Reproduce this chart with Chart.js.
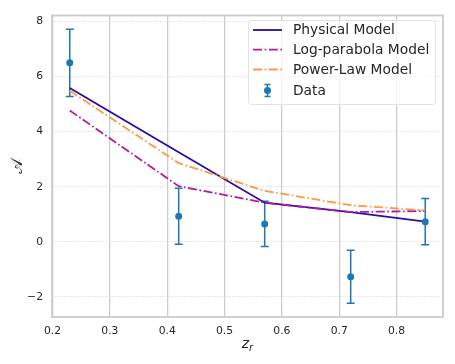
<!DOCTYPE html>
<html>
<head>
<meta charset="utf-8">
<script src="https://cdn.jsdelivr.net/npm/chart.js@4.4.1/dist/chart.umd.min.js"></script>
<style>
  html, body { margin: 0; padding: 0; background: #ffffff; }
  #wrap { width: 455px; height: 364px; position: relative; }
</style>
</head>
<body>
<div id="wrap"><canvas id="c" width="455" height="364"></canvas></div>
<script>
// ---- data ----
const redshifts = [0.23, 0.42, 0.57, 0.72, 0.85];
const dataValues = [6.5, 0.93, 0.65, -1.27, 0.73];
const dataErrors = [1.22, 1.02, 0.82, 0.96, 0.84];
const physicalModel = [5.59, 3.25, 1.42, 1.08, 0.73];
const logParabolaModel = [4.77, 2.02, 1.42, 1.08, 1.12];
const powerLawModel = [5.49, 2.86, 1.85, 1.33, 1.14];
const xTicks = [0.2, 0.3, 0.4, 0.5, 0.6, 0.7, 0.8];
const yTicks = [-2, 0, 2, 4, 6, 8];
const seriesLabels = ['Physical Model', 'Log-parabola Model', 'Power-Law Model', 'Data'];

const C_PHYS = '#2f0a9f';
const C_LOGP = '#b5199c';
const C_POW = '#fd9a44';
const C_DATA = '#1f77b4';
const TXT = '#262626';
const DASHDOT = [9, 2.6, 1.6, 2.6];

const pts = arr => redshifts.map((x, i) => ({ x: x, y: arr[i] }));

const errorBars = {
  id: 'errorBars',
  beforeDatasetsDraw(chart) {
    const ctx = chart.ctx, xs = chart.scales.x, ys = chart.scales.y;
    ctx.save();
    ctx.strokeStyle = C_DATA;
    ctx.lineWidth = 1.5;
    redshifts.forEach((x, i) => {
      const px = xs.getPixelForValue(x);
      const top = ys.getPixelForValue(dataValues[i] + dataErrors[i]);
      const bot = ys.getPixelForValue(dataValues[i] - dataErrors[i]);
      ctx.beginPath();
      ctx.moveTo(px, top); ctx.lineTo(px, bot);
      ctx.moveTo(px - 4, top); ctx.lineTo(px + 4, top);
      ctx.moveTo(px - 4, bot); ctx.lineTo(px + 4, bot);
      ctx.stroke();
    });
    ctx.restore();
  }
};

const frameAndText = {
  id: 'frameAndText',
  afterDraw(chart) {
    const ctx = chart.ctx, a = chart.chartArea;
    ctx.save();
    // frame
    ctx.strokeStyle = '#cccccc';
    ctx.lineWidth = 1.8;
    ctx.strokeRect(a.left, a.top, a.right - a.left, a.bottom - a.top);

    // x axis title z_r
    ctx.fillStyle = TXT;
    ctx.textBaseline = 'alphabetic';
    ctx.textAlign = 'left';
    ctx.font = 'italic 14px "DejaVu Sans"';
    const cx = (a.left + a.right) / 2;
    const zw = ctx.measureText('z').width;
    ctx.font = 'italic 10px "DejaVu Sans"';
    const rw = ctx.measureText('r').width;
    const x0 = cx - (zw + rw) / 2;
    ctx.font = 'italic 14px "DejaVu Sans"';
    ctx.fillText('z', x0, 348);
    ctx.font = 'italic 10px "DejaVu Sans"';
    ctx.fillText('r', x0 + zw, 351);

    // y axis title
    ctx.save();
    ctx.translate(18, (a.top + a.bottom) / 2);
    ctx.rotate(-Math.PI / 2);
    ctx.textAlign = 'center';
    ctx.textBaseline = 'middle';
    ctx.font = '16px "DejaVu Sans", "Noto Sans", sans-serif';
    ctx.fillText('\u{1D49C}', 0, 0);
    ctx.restore();

    // legend
    const lx = 248.5, ly = 20.5, lw = 187, lh = 84, r = 3;
    ctx.beginPath();
    ctx.moveTo(lx + r, ly);
    ctx.lineTo(lx + lw - r, ly); ctx.arcTo(lx + lw, ly, lx + lw, ly + r, r);
    ctx.lineTo(lx + lw, ly + lh - r); ctx.arcTo(lx + lw, ly + lh, lx + lw - r, ly + lh, r);
    ctx.lineTo(lx + r, ly + lh); ctx.arcTo(lx, ly + lh, lx, ly + lh - r, r);
    ctx.lineTo(lx, ly + r); ctx.arcTo(lx, ly, lx + r, ly, r);
    ctx.closePath();
    ctx.fillStyle = 'rgba(255,255,255,0.8)';
    ctx.fill();
    ctx.strokeStyle = '#e3e3e3';
    ctx.lineWidth = 1;
    ctx.stroke();

    const rows = [30, 49.7, 69.5, 90.5];
    const h0 = 253, h1 = 282, tx = 293;
    const styles = [
      { c: C_PHYS, d: [] },
      { c: C_LOGP, d: DASHDOT },
      { c: C_POW, d: DASHDOT }
    ];
    styles.forEach((s, i) => {
      ctx.beginPath();
      ctx.setLineDash(s.d);
      ctx.strokeStyle = s.c;
      ctx.lineWidth = 1.8;
      ctx.moveTo(h0, rows[i]); ctx.lineTo(h1, rows[i]);
      ctx.stroke();
    });
    ctx.setLineDash([]);
    // data handle
    const hx = (h0 + h1) / 2, hy = rows[3];
    ctx.strokeStyle = C_DATA;
    ctx.lineWidth = 1.5;
    ctx.beginPath();
    ctx.moveTo(hx, hy - 6); ctx.lineTo(hx, hy + 6);
    ctx.moveTo(hx - 3, hy - 6); ctx.lineTo(hx + 3, hy - 6);
    ctx.moveTo(hx - 3, hy + 6); ctx.lineTo(hx + 3, hy + 6);
    ctx.stroke();
    ctx.fillStyle = C_DATA;
    ctx.beginPath(); ctx.arc(hx, hy, 3.5, 0, Math.PI * 2); ctx.fill();

    ctx.fillStyle = TXT;
    ctx.font = '13.8px "DejaVu Sans"';
    ctx.textAlign = 'left';
    ctx.textBaseline = 'middle';
    chart.data.datasets.forEach((ds, i) => {
      ctx.fillText(ds.label, tx, rows[i] + 0.5);
    });
    ctx.restore();
  }
};

new Chart(document.getElementById('c'), {
  type: 'scatter',
  data: {
    datasets: [
      { label: seriesLabels[0], data: pts(physicalModel), showLine: true, borderColor: C_PHYS, borderWidth: 1.8, pointRadius: 0, fill: false, order: 3 },
      { label: seriesLabels[1], data: pts(logParabolaModel), showLine: true, borderColor: C_LOGP, borderWidth: 1.8, borderDash: DASHDOT, pointRadius: 0, fill: false, order: 2 },
      { label: seriesLabels[2], data: pts(powerLawModel), showLine: true, borderColor: C_POW, borderWidth: 1.8, borderDash: DASHDOT, pointRadius: 0, fill: false, order: 1 },
      { label: seriesLabels[3], data: pts(dataValues), showLine: false, backgroundColor: C_DATA, borderColor: C_DATA, pointRadius: 3.5, borderWidth: 0, order: 0 }
    ]
  },
  options: {
    responsive: false,
    animation: false,
    devicePixelRatio: 1,
    layout: { padding: { top: 12, right: 12, left: 0, bottom: 0 } },
    plugins: { legend: { display: false }, tooltip: { enabled: false } },
    scales: {
      x: {
        type: 'linear', min: 0.199, max: 0.881,
        afterBuildTicks: s => { s.ticks = xTicks.map(v => ({ value: v })); },
        afterFit: s => { s.height = 47; },
        grid: { color: '#cccccc', lineWidth: 1.3, drawTicks: false },
        border: { display: false },
        ticks: { padding: 8, color: TXT, font: { family: 'DejaVu Sans', size: 10.8 }, callback: v => v.toFixed(1) }
      },
      y: {
        type: 'linear', min: -2.73, max: 8.22,
        afterBuildTicks: s => { s.ticks = yTicks.map(v => ({ value: v })); },
        afterFit: s => { s.width = 52; },
        grid: { color: '#d8d8d8', lineWidth: 0.8, drawTicks: false },
        border: { display: false, dash: [1.5, 1.5] },
        ticks: { padding: 9, color: TXT, font: { family: 'DejaVu Sans', size: 10.8 }, callback: v => (v < 0 ? '\u2212' + Math.abs(v) : String(v)) }
      }
    }
  },
  plugins: [errorBars, frameAndText]
});
</script>
</body>
</html>
